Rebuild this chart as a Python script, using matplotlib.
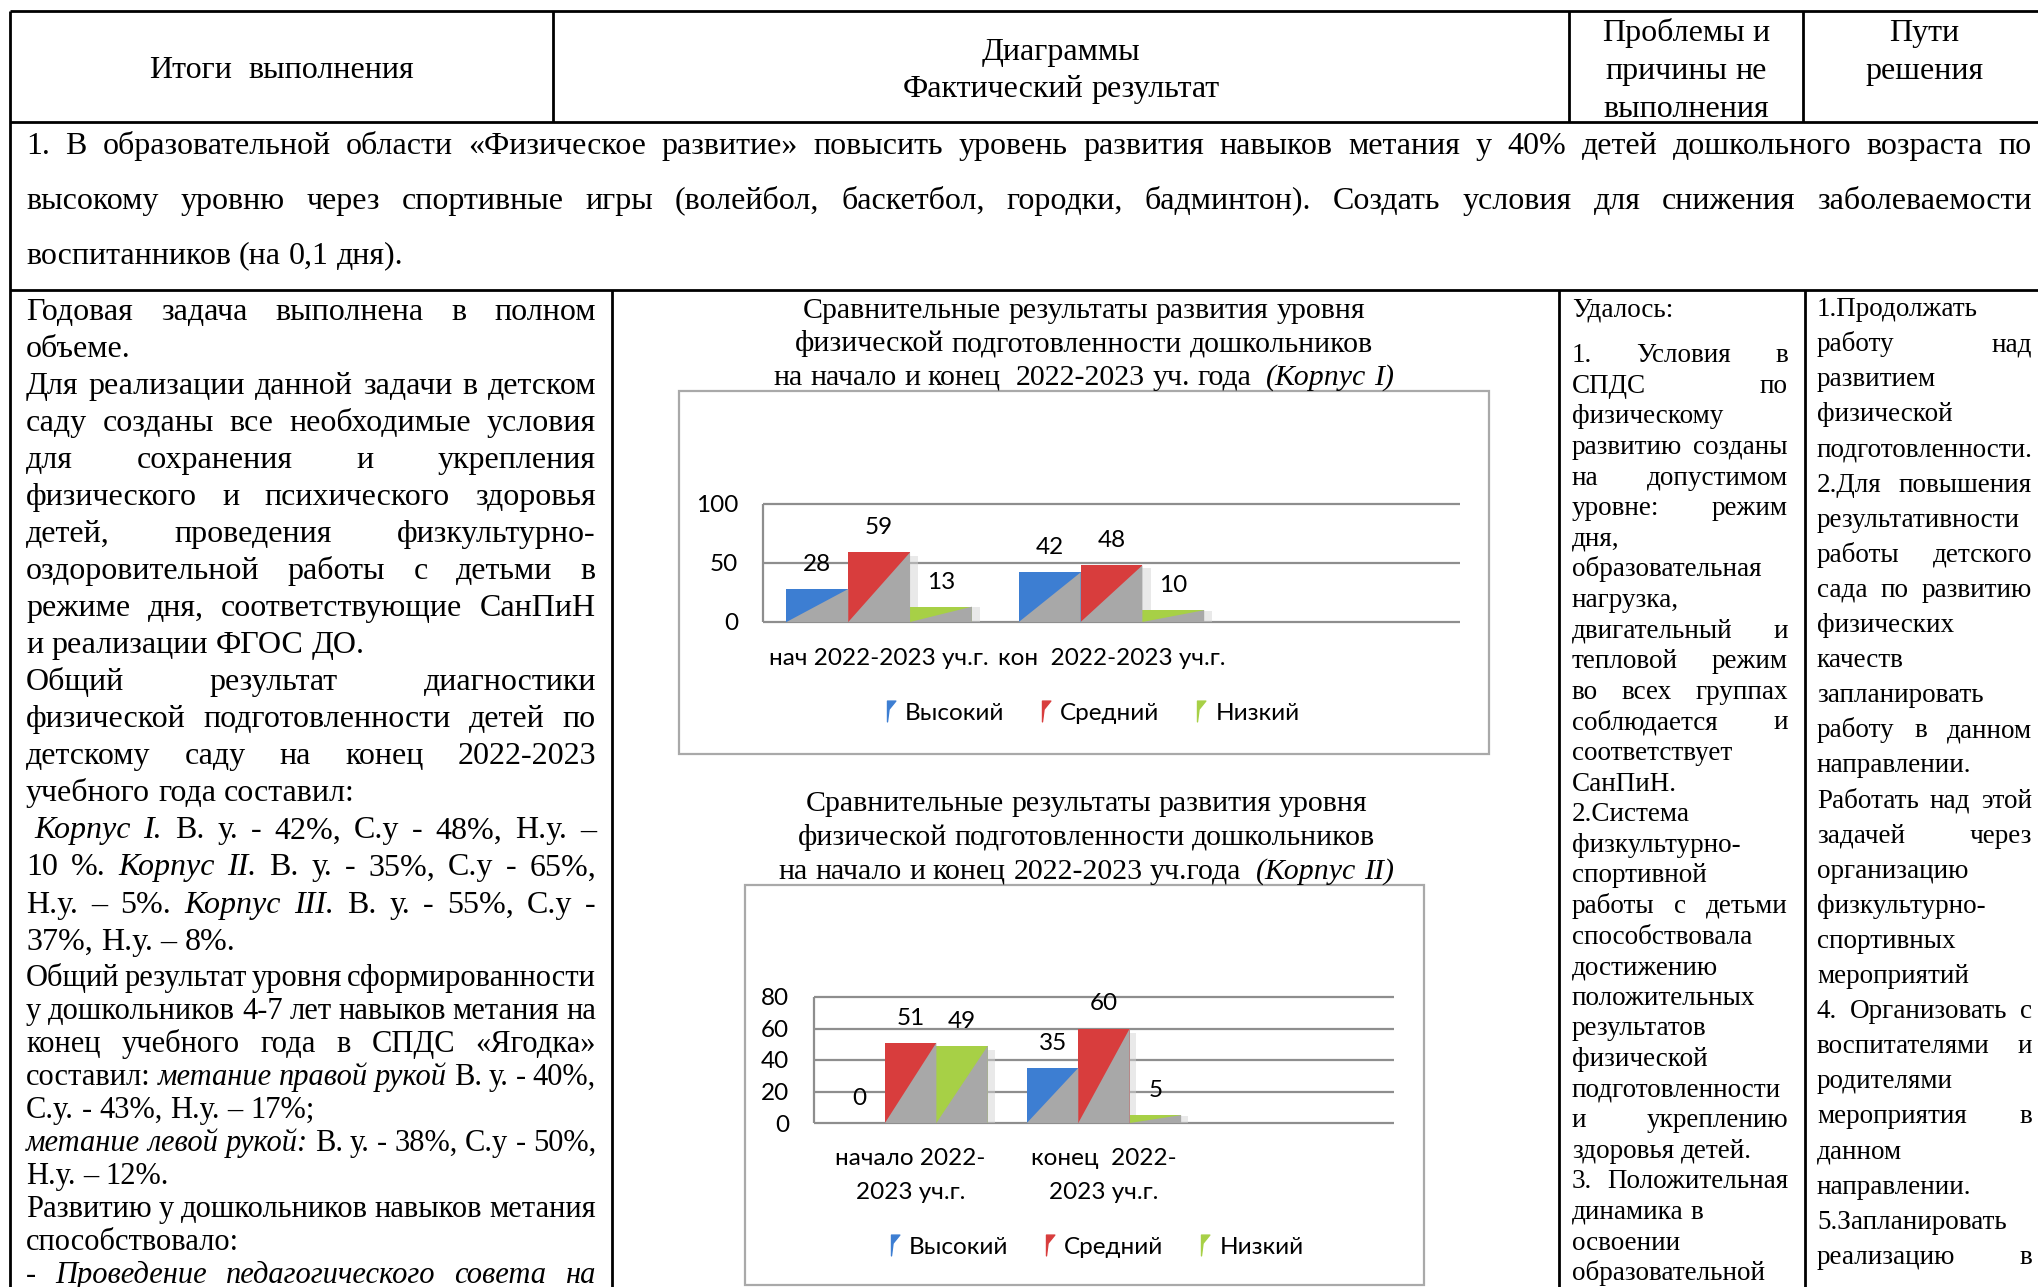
import matplotlib
matplotlib.use('Agg')
import matplotlib.pyplot as plt
from matplotlib.patches import Polygon, Rectangle
from matplotlib.lines import Line2D
from matplotlib.path import Path

W, H = 2038, 1287
SERIF = 'Liberation Serif'
SANS = 'Lato'

# chart data
levels = ['Высокий', 'Средний', 'Низкий']
level_colors = ['#3d7ed2', '#d83d3d', '#a7d046']

k1_periods = ['нач 2022-2023 уч.г.', 'кон  2022-2023 уч.г.']
k1_high = [28, 42]
k1_mid = [59, 48]
k1_low = [13, 10]
k1_ticks = [0, 50, 100]

k2_periods = ['начало 2022-\n2023 уч.г.', 'конец  2022-\n2023 уч.г.']
k2_high = [0, 35]
k2_mid = [51, 60]
k2_low = [49, 5]
k2_ticks = [0, 20, 40, 60, 80]

# texts ("*" marks an italic word, True = justified line)
title1 = ['Сравнительные результаты развития уровня',
          'физической подготовленности дошкольников',
          'на начало и конец  2022-2023 уч. года  *(Корпус *I)']
title2 = ['Сравнительные результаты развития уровня',
          'физической подготовленности дошкольников',
          'на начало и конец 2022-2023 уч.года  *(Корпус *II)']

goal = [
    ('1. В образовательной области «Физическое развитие» повысить уровень развития навыков метания у 40% детей дошкольного возраста по', True),
    ('высокому уровню через спортивные игры (волейбол, баскетбол, городки, бадминтон). Создать условия для снижения заболеваемости', True),
    ('воспитанников (на 0,1 дня).', False),
]

left_col = [
    ('Годовая  задача  выполнена  в  полном', True),
    ('объеме.', False),
    ('Для реализации данной задачи в детском', True),
    ('саду созданы все необходимые условия', True),
    ('для сохранения и укрепления', True),
    ('физического и психического здоровья', True),
    ('детей, проведения физкультурно-', True),
    ('оздоровительной работы с детьми в', True),
    ('режиме дня, соответствующие  СанПиН', True),
    ('и реализации ФГОС ДО.', False),
    ('Общий результат диагностики', True),
    ('физической подготовленности детей по', True),
    ('детскому саду на конец 2022-2023', True),
    ('учебного года составил:', False),
    (' *Корпус *I.  В. у. - 42%, С.у - 48%, Н.у. –', True),
    ('10 %. *Корпус *II.  В. у. - 35%, С.у - 65%,', True),
    ('Н.у. – 5%. *Корпус *III.  В. у. - 55%, С.у -', True),
    ('37%, Н.у. – 8%.', False),
]

left_col2 = [
    ('Общий результат уровня сформированности', True),
    ('у дошкольников 4-7 лет навыков метания на', True),
    ('конец учебного года в СПДС «Ягодка»', True),
    ('составил: *метание *правой *рукой В. у. - 40%,', True),
    ('С.у. - 43%, Н.у. – 17%;', False),
    ('*метание *левой *рукой: В. у. - 38%, С.у - 50%,', True),
    ('Н.у. – 12%.', False),
    ('Развитию у дошкольников навыков метания', True),
    ('способствовало:', False),
    ('- *Проведение *педагогического *совета *на', True),
]

prob_col = [
    ('1.   Условия   в', True), ('СПДС   по', True), ('физическому', False),
    ('развитию созданы', True), ('на   допустимом', True), ('уровне:   режим', True),
    ('дня,', False), ('образовательная', False), ('нагрузка,', False),
    ('двигательный   и', True), ('тепловой   режим', True), ('во  всех  группах', True),
    ('соблюдается   и', True), ('соответствует', False), ('СанПиН.', False),
    ('2.Система', False), ('физкультурно-', False), ('спортивной', False),
    ('работы  с  детьми', True), ('способствовала', False), ('достижению', False),
    ('положительных', False), ('результатов', False), ('физической', False),
    ('подготовленности', False), ('и   укреплению', True), ('здоровья детей.', False),
    ('3.  Положительная', True), ('динамика в', False), ('освоении', False),
    ('образовательной', False),
]

ways_col = [
    ('1.Продолжать', False), ('работу   над', True), ('развитием', False),
    ('физической', False), ('подготовленности.', False), ('2.Для  повышения', True),
    ('результативности', False), ('работы   детского', True), ('сада по развитию', True),
    ('физических', False), ('качеств', False), ('запланировать', False),
    ('работу  в  данном', True), ('направлении.', False), ('Работать над этой', True),
    ('задачей   через', True), ('организацию', False), ('физкультурно-', False),
    ('спортивных', False), ('мероприятий', False), ('4. Организовать с', True),
    ('воспитателями   и', True), ('родителями', False), ('мероприятия   в', True),
    ('данном', False), ('направлении.', False), ('5.Запланировать', False),
    ('реализацию   в', True),
]

BIG = 23      # pt, main table text
MID = 22      # pt, lower part of the first column
SMALL = 19.5  # pt, narrow columns
TSIZE = 21.5  # pt, chart titles
CSIZE = 17.5  # pt, chart text

fig = plt.figure(figsize=(W / 100, H / 100), dpi=100)
bg = fig.add_axes([0, 0, 1, 1])
bg.set_xlim(0, W)
bg.set_ylim(H, 0)
bg.axis('off')
renderer = fig.canvas.get_renderer()

_space = {}


def space_w(size):
    if size not in _space:
        a = bg.text(0, 0, 'x x', fontsize=size, family=SERIF)
        b = bg.text(0, 0, 'xx', fontsize=size, family=SERIF)
        _space[size] = a.get_window_extent(renderer).width - b.get_window_extent(renderer).width
        a.remove()
        b.remove()
    return _space[size]


def draw_line(line, x0, x1, yc, size, mode):
    y = yc + 0.3 * size / 0.72
    sp = space_w(size)
    lead = len(line) - len(line.lstrip(' '))
    words = line.strip(' ').split(' ')
    if mode == 'justify':
        words = [w for w in words if w]
    objs, widths = [], []
    for w in words:
        if not w:
            objs.append(None)
            widths.append(0.0)
            continue
        italic = w.startswith('*')
        t = bg.text(0, y, w.lstrip('*'), fontsize=size, family=SERIF,
                    style='italic' if italic else 'normal', va='baseline', ha='left')
        objs.append(t)
        widths.append(t.get_window_extent(renderer).width)
    start = x0 + lead * sp
    gap = sp
    if mode == 'justify' and len(words) > 1:
        gap = (x1 - start - sum(widths)) / (len(words) - 1)
    elif mode == 'center':
        start = (x0 + x1) / 2 - (sum(widths) + sp * (len(words) - 1)) / 2
    x = start
    for t, w in zip(objs, widths):
        if t is not None:
            t.set_x(x)
        x += w + gap


def draw_block(lines, x0, x1, y0, step, size):
    for i, (line, just) in enumerate(lines):
        draw_line(line, x0, x1, y0 + i * step, size, 'justify' if just else 'left')


# table grid
LW = 2.0
bg.hlines([11, 122, 290], 10, W, colors='black', lw=LW)
bg.vlines(10, 11, H, colors='black', lw=LW)
bg.vlines([553, 1569, 1803], 11, 122, colors='black', lw=LW)
bg.vlines([612, 1559, 1805], 290, H, colors='black', lw=LW)

# header row
draw_line('Итоги  выполнения', 10, 553, 68, BIG, 'center')
draw_line('Диаграммы', 553, 1569, 50, BIG, 'center')
draw_line('Фактический результат', 553, 1569, 87, BIG, 'center')
for i, s in enumerate(['Проблемы и', 'причины не', 'выполнения']):
    draw_line(s, 1569, 1803, 31 + 38 * i, BIG, 'center')
for i, s in enumerate(['Пути', 'решения']):
    draw_line(s, 1803, 2046, 31 + 38 * i, BIG, 'center')

# goal row
draw_block(goal, 26, 2032, 144, 55, BIG)

# text columns
draw_block(left_col, 26, 596, 310, 37.06, BIG)
draw_block(left_col2, 26, 596, 977, 33.0, MID)
draw_line('Удалось:', 1572, 1788, 308, SMALL, 'left')
draw_block(prob_col, 1572, 1788, 354, 30.6, SMALL)
draw_block(ways_col, 1817, 2032, 308, 35.1, SMALL)

# chart titles and frames
for i, s in enumerate(title1):
    draw_line(s, 679, 1489, 309 + 33.5 * i, TSIZE, 'center')
for i, s in enumerate(title2):
    draw_line(s, 745, 1428, 802 + 34 * i, TSIZE, 'center')
bg.add_patch(Rectangle((679, 391), 810, 363, fill=False, ec='#a9a9a9', lw=1.6))
bg.add_patch(Rectangle((745, 885), 679, 400, fill=False, ec='#a9a9a9', lw=1.6))

FLAG = Path([(0, 1), (0.8, 1), (0.15, 0.2), (0, -1), (0, 1)],
            [Path.MOVETO, Path.LINETO, Path.LINETO, Path.LINETO, Path.CLOSEPOLY])


def bar_chart(box, periods, series, ticks, legend_c, xpad, lspace):
    left, top, right, bottom = box
    ax = fig.add_axes([left / W, 1 - bottom / H, (right - left) / W, (bottom - top) / H])
    ax.set_facecolor('none')
    ax.set_xlim(-0.5, 2.5)
    ax.set_ylim(0, ticks[-1])
    bw = 0.266
    for i, (vals, color) in enumerate(zip(series, level_colors)):
        xs = [c + (i - 1) * bw for c in range(len(vals))]
        ax.bar(xs, vals, bw, color=color, lw=0, zorder=3)
        for x, v in zip(xs, vals):
            l, r = x - bw / 2, x + bw / 2
            if v > 0:
                ax.add_patch(Rectangle((r, 0), 0.035, v * 0.95, color='#d4d4d4',
                                       alpha=0.5, lw=0, zorder=2))
                ax.add_patch(Polygon([(l, 0), (r, v), (r, 0)], closed=True,
                                     color='#a8a8a8', lw=0, zorder=4))
            ax.annotate(str(v), (x, v), xytext=(0, 13), textcoords='offset points',
                        ha='center', va='baseline', fontsize=CSIZE, family=SANS, zorder=6)
    ax.hlines(ticks, -0.5, 2.5, colors='#8e8e8e', lw=1.6, zorder=1, clip_on=False)
    ax.vlines(-0.5, 0, ticks[-1], colors='#8e8e8e', lw=1.6, zorder=1, clip_on=False)
    for s in ax.spines.values():
        s.set_visible(False)
    ax.set_yticks(ticks)
    ax.set_yticklabels([str(t) for t in ticks], fontsize=CSIZE, family=SANS)
    ax.set_xticks(range(len(periods)))
    ax.set_xticklabels(periods, fontsize=CSIZE, family=SANS, linespacing=lspace)
    ax.tick_params(axis='y', length=0, pad=18)
    ax.tick_params(axis='x', length=0, pad=xpad)
    handles = [Line2D([0], [0], marker=FLAG, color=c, ls='none', markersize=15)
               for c in level_colors]
    fig.legend(handles, levels, loc='center', ncol=3, frameon=False,
               bbox_to_anchor=(legend_c[0] / W, 1 - legend_c[1] / H),
               prop={'family': SANS, 'size': CSIZE}, handlelength=0.7,
               handletextpad=0.4, columnspacing=1.2)
    return ax


bar_chart((763, 504, 1460, 622), k1_periods, [k1_high, k1_mid, k1_low], k1_ticks,
          (1089, 713), 19, 1.2)
bar_chart((814, 997, 1394, 1123), k2_periods, [k2_high, k2_mid, k2_low], k2_ticks,
          (1093, 1247), 18, 1.75)

fig.savefig('out.png', dpi=100)
